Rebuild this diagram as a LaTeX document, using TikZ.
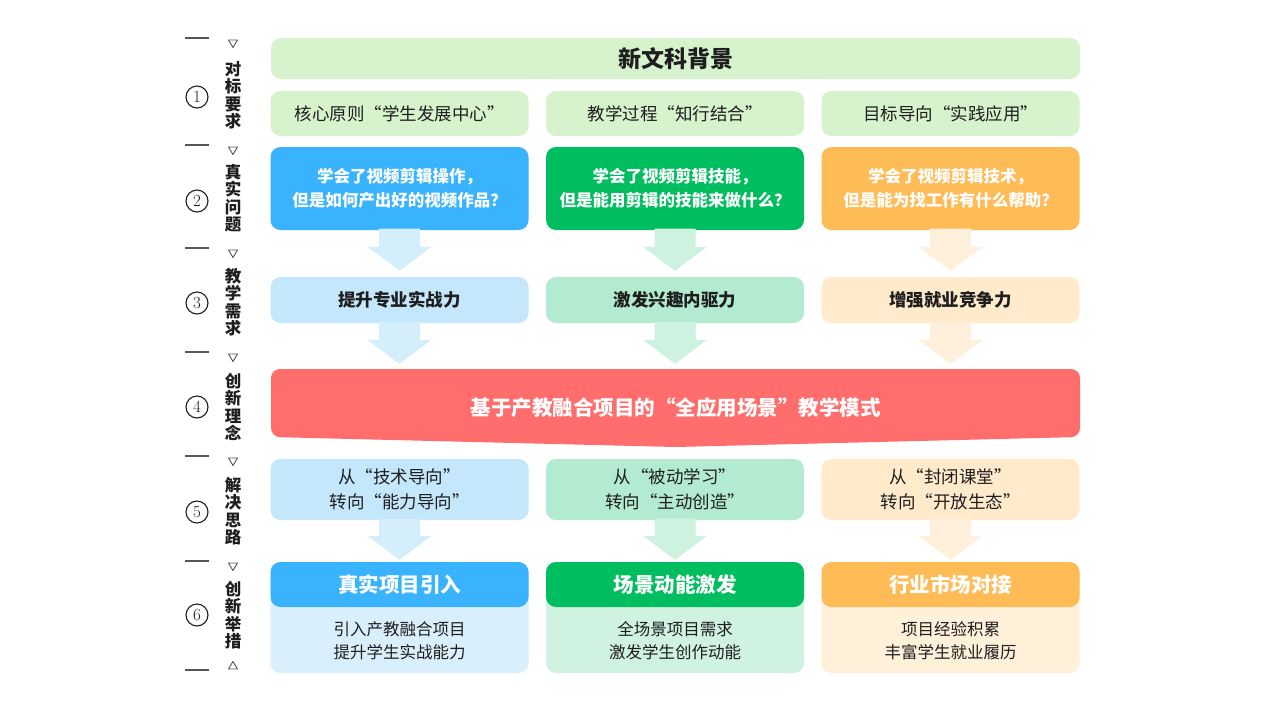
\documentclass[tikz,border=0pt]{standalone}
\usepackage{fontspec}
\setmainfont{Noto Sans CJK SC}
\newfontfamily\digitfont{Latin Modern Roman}
\usetikzlibrary{calc}
\definecolor{topg}{HTML}{D7F3CD}
\definecolor{cblue}{HTML}{3AB3FE}
\definecolor{lblue}{HTML}{C4E7FC}
\definecolor{ablue}{HTML}{D5EEFC}
\definecolor{bblue}{HTML}{D9EFFC}
\definecolor{cgreen}{HTML}{00BE5F}
\definecolor{lgreen}{HTML}{B3EBD1}
\definecolor{agreen}{HTML}{CDF2E0}
\definecolor{bgreen}{HTML}{CFF2E1}
\definecolor{corange}{HTML}{FFBB56}
\definecolor{lorange}{HTML}{FFEACC}
\definecolor{aorange}{HTML}{FFF0DC}
\definecolor{borange}{HTML}{FFF0DA}
\definecolor{cred}{HTML}{FF6D6D}
\definecolor{ink}{HTML}{1E1E1E}
\definecolor{side}{HTML}{555555}
\newcommand\blockarr[4]{%
  \fill[#3] let \p1=($(#1.south)+(0,-1.5)$), \p2=($(#2.north)+(0,-#4)$) in
    (\x1-20.5pt,\y1) -- (\x1+20.5pt,\y1) -- (\x1+20.5pt,\y2+24pt) -- (\x1+32pt,\y2+24pt)
    -- (\x1,\y2) -- (\x1-32pt,\y2+24pt) -- (\x1-20.5pt,\y2+24pt) -- cycle;}
\begin{document}
\begin{tikzpicture}[x=1pt,y=-1pt,
  box/.style={rounded corners=10pt, inner sep=0pt, minimum width=258pt, align=center, text=ink},
  qbox/.style={box, text=white, font=\fontsize{16.5}{24}\selectfont\bfseries},
  rbox/.style={box, font=\fontsize{17.5}{25}\selectfont},
  hbox/.style={box, text=white, font=\fontsize{20.5}{24}\selectfont\bfseries},
  sidetext/.style={font=\fontsize{16.5}{17.5}\selectfont\bfseries, text=ink, align=center, inner sep=0pt},
  num/.style={circle, draw=ink, line width=1.1pt, minimum size=22pt, inner sep=0pt, text=ink, font=\digitfont\fontsize{17}{17}\selectfont},
  tri/.style={draw=side, line width=0.9pt, line join=round}
]
\useasboundingbox (0,0) rectangle (1267,713);
\fill[white] (0,0) rectangle (1267,713);

% left side
\foreach \yy in {38,145,248,352,456,561,670}
  \draw[side, line width=1.1pt] (185,\yy) -- (209,\yy);
\foreach \yy in {40,147,250,354,458,563}
  \draw[tri] (228.5,\yy) -- (237.5,\yy) -- (233,\yy+7.5) -- cycle;
\draw[tri] (228.5,669) -- (237.5,669) -- (233,661.5) -- cycle;
\node[num] (n1) at (197,97) {1};
\node[num] (n2) at (197,201) {2};
\node[num] (n3) at (197,303) {3};
\node[num] (n4) at (197,407) {4};
\node[num] (n5) at (197,512) {5};
\node[num] (n6) at (197,615) {6};
\node[sidetext] (s1) at (233,95) {对\\标\\要\\求};
\node[sidetext] (s2) at (233,198) {真\\实\\问\\题};
\node[sidetext] (s3) at (233,302) {教\\学\\需\\求};
\node[sidetext] (s4) at (233,407) {创\\新\\理\\念};
\node[sidetext] (s5) at (233,511) {解\\决\\思\\路};
\node[sidetext] (s6) at (233,615) {创\\新\\举\\措};

% top
\node[box, fill=topg, minimum width=809pt, minimum height=41pt, font=\fontsize{23}{24}\selectfont\bfseries] (top) at (675.5,58.5) {新文科背景};
\node[rbox, fill=topg, minimum height=45pt] (a1) at (399.5,113.5) {核心原则“学生发展中心”};
\node[rbox, fill=topg, minimum height=45pt] (a2) at (675,113.5) {教学过程“知行结合”};
\node[rbox, fill=topg, minimum height=45pt] (a3) at (950.5,113.5) {目标导向“实践应用”};

% questions
\node[qbox, fill=cblue, minimum height=83pt] (q1) at (399.5,188.5) {学会了视频剪辑操作，\\但是如何产出好的视频作品？};
\node[qbox, fill=cgreen, minimum height=83pt] (q2) at (675,188.5) {学会了视频剪辑技能，\\但是能用剪辑的技能来做什么？};
\node[qbox, fill=corange, minimum height=83pt] (q3) at (950.5,188.5) {学会了视频剪辑技术，\\但是能为找工作有什么帮助？};

% needs
\node[rbox, fill=lblue, minimum height=46pt, font=\fontsize{17.5}{25}\selectfont\bfseries] (d1) at (399.5,300) {提升专业实战力};
\node[rbox, fill=lgreen, minimum height=46pt, font=\fontsize{17.5}{25}\selectfont\bfseries] (d2) at (675,300) {激发兴趣内驱力};
\node[rbox, fill=lorange, minimum height=46pt, font=\fontsize{17.5}{25}\selectfont\bfseries] (d3) at (950.5,300) {增强就业竞争力};

% banner
\fill[cred, rounded corners=9pt] (271,369) -- (1080,369) -- (1080,437) -- (675.5,447) -- (271,437) -- cycle;
\node[inner sep=0pt, minimum width=809pt, minimum height=68pt] (ban) at (675.5,403) {};
\node[text=white, inner sep=0pt, font=\fontsize{20.5}{24}\selectfont\bfseries] (bantext) at (675.5,408) {基于产教融合项目的“全应用场景”教学模式};

% solutions
\node[rbox, fill=lblue, minimum height=61pt] (r1) at (399.5,489.5) {从“技术导向”\\转向“能力导向”};
\node[rbox, fill=lgreen, minimum height=61pt] (r2) at (675,489.5) {从“被动学习”\\转向“主动创造”};
\node[rbox, fill=lorange, minimum height=61pt] (r3) at (950.5,489.5) {从“封闭课堂”\\转向“开放生态”};

% measures
\node[box, fill=bblue, minimum height=111pt] (m1) at (399.5,617.5) {};
\node[box, fill=bgreen, minimum height=111pt] (m2) at (675,617.5) {};
\node[box, fill=borange, minimum height=111pt] (m3) at (950.5,617.5) {};
\node[hbox, fill=cblue, minimum height=45pt] (h1) at (399.5,584.5) {真实项目引入};
\node[hbox, fill=cgreen, minimum height=45pt] (h2) at (675,584.5) {场景动能激发};
\node[hbox, fill=corange, minimum height=45pt] (h3) at (950.5,584.5) {行业市场对接};
\node[align=center, text=ink, inner sep=0pt, font=\fontsize{16.5}{23}\selectfont] (t1) at (399.5,640.5) {引入产教融合项目\\提升学生实战能力};
\node[align=center, text=ink, inner sep=0pt, font=\fontsize{16.5}{23}\selectfont] (t2) at (675,640.5) {全场景项目需求\\激发学生创作动能};
\node[align=center, text=ink, inner sep=0pt, font=\fontsize{16.5}{23}\selectfont] (t3) at (950.5,640.5) {项目经验积累\\丰富学生就业履历};

% arrows
\blockarr{q1}{d1}{ablue}{6}
\blockarr{q2}{d2}{agreen}{6}
\blockarr{q3}{d3}{aorange}{6}
\blockarr{d1}{ban}{ablue}{5}
\blockarr{d2}{ban}{agreen}{5}
\blockarr{d3}{ban}{aorange}{5}
\blockarr{r1}{m1}{ablue}{2}
\blockarr{r2}{m2}{agreen}{2}
\blockarr{r3}{m3}{aorange}{2}
\end{tikzpicture}
\end{document}
